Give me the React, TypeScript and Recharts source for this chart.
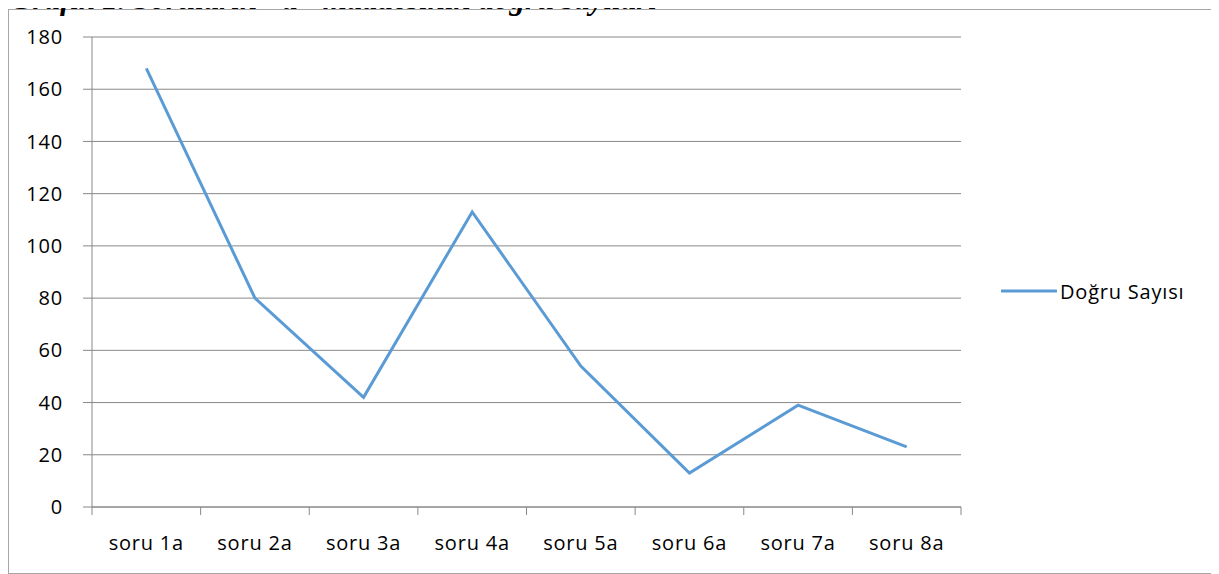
import React from 'react'
import { LineChart, Line, XAxis, YAxis, CartesianGrid } from 'recharts'

const categories = ['soru 1a', 'soru 2a', 'soru 3a', 'soru 4a', 'soru 5a', 'soru 6a', 'soru 7a', 'soru 8a']
const dogruSayisi = [168, 80, 42, 113, 54, 13, 39, 23]
const yTicks = [0, 20, 40, 60, 80, 100, 120, 140, 160, 180]

const seriesName = 'Doğru Sayısı'
const title = 'Grafik 1. Soruların "a" maddesinin doğru sayıları'

const data = categories.map((name, i) => ({ name, value: dogruSayisi[i] }))

const FONT = '"Open Sans", Calibri, sans-serif'
const LINE = '#5b9bd5'
const GRID = '#888888'
const tickStyle = { fontSize: 20, fill: '#000', fontFamily: FONT, letterSpacing: 0.8 }
const X_LABEL_GAP = 29

// label in the middle of the band, tick mark on the band's edges (Excel style)
function CategoryTick(props: any) {
  const { x, y, payload, index, visibleTicksCount, width } = props
  const half = width / visibleTicksCount / 2
  const axisY = y - X_LABEL_GAP
  const isLast = index === visibleTicksCount - 1
  return (
    <g>
      <line x1={x - half} y1={axisY} x2={x - half} y2={axisY + 8} stroke={GRID} />
      {isLast && <line x1={x + half} y1={axisY} x2={x + half} y2={axisY + 8} stroke={GRID} />}
      <text x={x} y={y} dy="0.71em" textAnchor="middle" {...tickStyle}>
        {payload.value}
      </text>
    </g>
  )
}

export default function App() {
  return (
    <div style={{ position: 'relative', width: 1219, height: 574, marginLeft: -8, marginTop: -8, overflow: 'hidden', background: '#fff' }}>
      {/* chart frame */}
      <div style={{ position: 'absolute', left: 8, top: 9, width: 1208, height: 563, border: '1px solid #a6a6a6' }} />

      <div style={{ position: 'absolute', left: 0, top: 0 }}>
        <LineChart width={1219} height={574} data={data} margin={{ top: 37, right: 258, bottom: 7, left: 32 }}>
          <CartesianGrid vertical={false} stroke={GRID} strokeWidth={1} />
          <XAxis
            dataKey="name"
            scale="band"
            interval={0}
            height={60}
            stroke={GRID}
            tickLine={false}
            tickSize={0}
            tickMargin={X_LABEL_GAP}
            tick={<CategoryTick />}
          />
          <YAxis
            width={60}
            domain={[0, 180]}
            ticks={yTicks}
            interval={0}
            stroke={GRID}
            tickLine={{ stroke: GRID }}
            tickSize={9}
            tickMargin={20}
            tick={tickStyle}
          />
          <Line
            type="linear"
            dataKey="value"
            name={seriesName}
            stroke={LINE}
            strokeWidth={3}
            dot={false}
            activeDot={false}
            isAnimationActive={false}
          />
        </LineChart>
      </div>

      {/* title, cut off at the top like the source */}
      <svg width={1219} height={24} style={{ position: 'absolute', left: 0, top: 0 }}>
        <text
          x={10}
          y={9}
          fontFamily='"Liberation Serif", "Times New Roman", serif'
          fontWeight={700}
          fontStyle="italic"
          fontSize={31}
          fill="#000"
        >
          {title}
        </text>
      </svg>

      {/* legend */}
      <div style={{ position: 'absolute', left: 1001, top: 277, display: 'flex', alignItems: 'center', fontFamily: FONT, fontSize: 20, letterSpacing: 0.8 }}>
        <svg width={56} height={28}>
          <line x1={1} y1={14} x2={55} y2={14} stroke={LINE} strokeWidth={3} strokeLinecap="round" />
        </svg>
        <span style={{ marginLeft: 3 }}>{seriesName}</span>
      </div>
    </div>
  )
}
